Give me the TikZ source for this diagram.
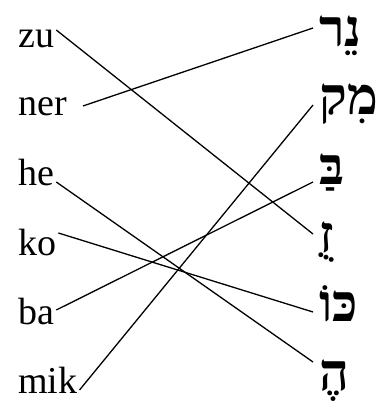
\documentclass[tikz,border=0pt]{standalone}
\usepackage{fontspec}
\setmainfont{Liberation Serif}
\newfontfamily\hebfont[Script=Hebrew]{Liberation Serif}
\TeXXeTstate=1
\begin{document}
\begin{tikzpicture}[x=1pt,y=-1pt,
  lat/.style={anchor=base west,inner sep=2pt,font=\fontsize{38}{38}\selectfont},
  heb/.style={anchor=base west,inner sep=6pt,font=\hebfont\bfseries\fontsize{52}{52}\selectfont},
  match/.style={line width=1.3pt}]
\useasboundingbox (0,0) rectangle (381,403);
% latin words
\node[lat](zu) at (16,48){zu};
\node[lat](ner) at (16,116){ner};
\node[lat](he) at (16,185){he};
\node[lat](ko) at (16,255){ko};
\node[lat](ba) at (16,324){ba};
\node[lat](mik) at (16,393){mik};
% hebrew words
\node[heb](nerH) at (313,47){\beginR נֵר\endR};
\node[heb](mikH) at (313,115){\beginR מִק\endR};
\node[heb](baH) at (313,184){\beginR בַּ\endR};
\node[heb](zuH) at (313,252){\beginR זֻ\endR};
\node[heb](koH) at (313,321){\beginR כּוֹ\endR};
\node[heb](heH) at (313,390){\beginR הֶ\endR};
% matches
\draw[match]([yshift=18pt]zu.base east)--([yshift=18pt]zuH.base west);
\draw[match]([xshift=14pt,yshift=10pt]ner.base east)--([yshift=19pt]nerH.base west);
\draw[match]([yshift=3pt]he.base east)--([yshift=28pt]heH.base west);
\draw[match]([yshift=22pt]ko.base east)--([yshift=9pt]koH.base west);
\draw[match]([yshift=14pt]ba.base east)--([yshift=2pt]baH.base west);
\draw[match]([yshift=3pt]mik.base east)--([yshift=10pt]mikH.base west);
\end{tikzpicture}
\end{document}
